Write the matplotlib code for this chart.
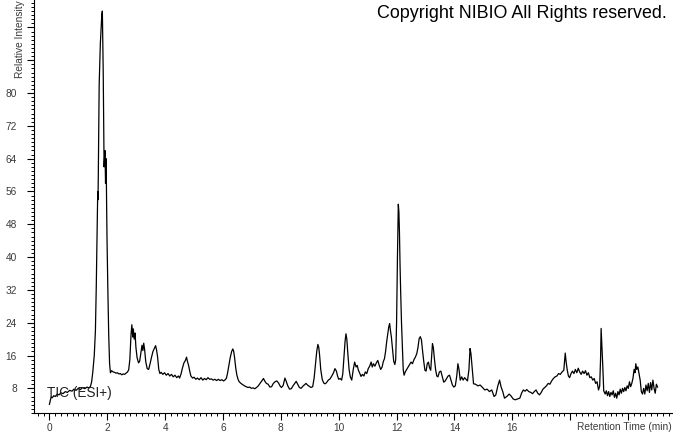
import matplotlib
matplotlib.use("Agg")
import matplotlib.pyplot as plt
from matplotlib.ticker import MultipleLocator, FixedFormatter, FuncFormatter

plt.rcParams['font.family'] = ['Liberation Sans', 'DejaVu Sans']

# retention time (min) and relative intensity
time_min = [
    0.00, 0.03, 0.06, 0.10, 0.15, 0.20, 0.27, 0.33, 0.40, 0.47, 0.55, 0.62,
    0.70, 0.78, 0.85, 0.92, 1.00, 1.07, 1.15, 1.22, 1.30, 1.37, 1.42, 1.46,
    1.50, 1.55, 1.59, 1.62, 1.65, 1.67, 1.68, 1.69, 1.72, 1.76, 1.79, 1.81,
    1.83, 1.86, 1.89, 1.92, 1.94, 1.96, 1.99, 2.02, 2.05, 2.08, 2.11, 2.15,
    2.20, 2.25, 2.30, 2.35, 2.40, 2.45, 2.50, 2.55, 2.60, 2.65, 2.70, 2.74,
    2.78, 2.82, 2.85, 2.88, 2.90, 2.93, 2.96, 2.99, 3.03, 3.08, 3.12, 3.15,
    3.20, 3.23, 3.26, 3.29, 3.33, 3.38, 3.43, 3.48, 3.53, 3.58, 3.63, 3.67,
    3.70, 3.74, 3.78, 3.82, 3.86, 3.92, 3.98, 4.04, 4.10, 4.16, 4.22, 4.28,
    4.34, 4.40, 4.46, 4.50, 4.55, 4.60, 4.65, 4.70, 4.74, 4.77, 4.81, 4.85,
    4.89, 4.95, 5.00, 5.06, 5.12, 5.18, 5.24, 5.30, 5.36, 5.42, 5.48, 5.54,
    5.60, 5.66, 5.72, 5.78, 5.84, 5.90, 5.96, 6.02, 6.08, 6.12, 6.16, 6.20,
    6.25, 6.30, 6.34, 6.37, 6.40, 6.44, 6.48, 6.52, 6.56, 6.62, 6.68, 6.74,
    6.80, 6.86, 6.92, 6.98, 7.04, 7.10, 7.16, 7.22, 7.28, 7.34, 7.40, 7.44,
    7.50, 7.56, 7.62, 7.68, 7.74, 7.80, 7.86, 7.92, 7.98, 8.02, 8.08, 8.14,
    8.18, 8.24, 8.30, 8.36, 8.42, 8.48, 8.53, 8.58, 8.64, 8.70, 8.76, 8.82,
    8.87, 8.92, 8.98, 9.04, 9.10, 9.15, 9.20, 9.24, 9.28, 9.31, 9.34, 9.38,
    9.43, 9.48, 9.53, 9.58, 9.64, 9.70, 9.76, 9.82, 9.87, 9.92, 9.96, 10.00,
    10.05, 10.10, 10.14, 10.18, 10.22, 10.25, 10.28, 10.32, 10.36, 10.40, 10.45, 10.50,
    10.55, 10.60, 10.64, 10.68, 10.72, 10.77, 10.82, 10.87, 10.92, 10.97, 11.02, 11.07,
    11.12, 11.16, 11.20, 11.25, 11.30, 11.35, 11.40, 11.45, 11.50, 11.54, 11.58, 11.62,
    11.66, 11.70, 11.73, 11.76, 11.79, 11.82, 11.86, 11.90, 11.94, 11.97, 12.00, 12.03,
    12.06, 12.08, 12.10, 12.12, 12.14, 12.17, 12.20, 12.23, 12.26, 12.30, 12.35, 12.40,
    12.45, 12.50, 12.55, 12.60, 12.65, 12.70, 12.74, 12.78, 12.82, 12.86, 12.90, 12.94,
    12.98, 13.02, 13.06, 13.10, 13.14, 13.18, 13.21, 13.24, 13.27, 13.31, 13.35, 13.39,
    13.43, 13.48, 13.53, 13.58, 13.63, 13.68, 13.73, 13.78, 13.83, 13.88, 13.93, 13.98,
    14.03, 14.08, 14.12, 14.16, 14.20, 14.25, 14.30, 14.35, 14.40, 14.45, 14.50, 14.54,
    14.57, 14.61, 14.66, 14.73, 14.81, 14.89, 14.97, 15.05, 15.13, 15.21, 15.29, 15.37,
    15.43, 15.50, 15.56, 15.61, 15.67, 15.73, 15.81, 15.89, 15.95, 16.03, 16.10, 16.18,
    16.26, 16.32, 16.38, 16.44, 16.50, 16.57, 16.64, 16.70, 16.76, 16.82, 16.88, 16.94,
    17.00, 17.06, 17.12, 17.18, 17.24, 17.30, 17.36, 17.42, 17.48, 17.54, 17.60, 17.66,
    17.72, 17.78, 17.83, 17.86, 17.90, 17.94, 17.98, 18.03, 18.08, 18.13, 18.18, 18.23,
    18.28, 18.33, 18.38, 18.43, 18.48, 18.53, 18.58, 18.63, 18.68, 18.73, 18.78, 18.83,
    18.88, 18.93, 18.98, 19.02, 19.05, 19.07, 19.10, 19.13, 19.16, 19.21, 19.25, 19.29,
    19.33, 19.37, 19.41, 19.45, 19.49, 19.53, 19.57, 19.61, 19.65, 19.69, 19.73, 19.77,
    19.81, 19.85, 19.89, 19.93, 19.97, 20.01, 20.05, 20.09, 20.13, 20.17, 20.21, 20.24,
    20.27, 20.30, 20.34, 20.38, 20.42, 20.46, 20.50, 20.54, 20.58, 20.62, 20.66, 20.70,
    20.74, 20.78, 20.82, 20.86, 20.90, 20.94, 20.98, 21.02,
]

intensity = [
    4.1, 5.0, 5.9, 5.7, 6.2, 6.0, 6.6, 6.4, 6.9, 6.7, 7.2, 7.0,
    7.5, 7.3, 7.8, 7.5, 8.0, 7.7, 8.2, 7.9, 8.3, 8.1, 8.5, 9.6,
    12.0, 16.0, 22.0, 33.0, 47.0, 56.0, 54.0, 60.0, 82.0, 92.0, 96.0, 99.0,
    100.0, 85.0, 62.0, 66.0, 58.0, 64.0, 45.0, 32.0, 21.0, 14.0, 11.8, 12.3,
    12.0, 11.9, 11.7, 11.8, 11.5, 11.6, 11.3, 11.5, 11.4, 11.7, 12.0, 12.5,
    15.0, 21.0, 23.5, 20.5, 22.5, 20.0, 21.5, 18.0, 15.5, 14.2, 14.6, 16.0,
    18.5, 17.2, 19.0, 17.5, 14.5, 12.8, 12.6, 14.0, 15.6, 17.0, 17.8, 18.4,
    17.5, 15.6, 12.6, 11.6, 11.9, 11.4, 11.8, 11.2, 11.6, 11.0, 11.4, 10.8,
    11.2, 10.6, 11.0, 10.5, 11.5, 13.0, 14.2, 14.8, 15.6, 14.6, 13.6, 12.2,
    11.0, 10.5, 10.7, 10.2, 10.5, 10.1, 10.6, 10.0, 10.4, 10.1, 10.6, 10.2,
    10.3, 10.0, 10.2, 9.9, 10.2, 9.9, 10.1, 9.8, 10.1, 10.5, 11.8, 13.5,
    15.5, 17.0, 17.6, 17.0, 15.5, 13.0, 11.2, 10.2, 9.6, 9.2, 8.9, 8.6,
    8.4, 8.2, 8.3, 8.0, 8.1, 7.9, 8.2, 8.6, 9.2, 9.8, 10.4, 9.8,
    9.2, 9.0, 8.3, 8.4, 9.2, 9.6, 9.8, 9.3, 8.5, 8.2, 8.7, 10.5,
    9.8, 8.6, 7.8, 7.9, 8.6, 9.2, 9.7, 9.0, 8.2, 8.0, 8.5, 8.9,
    9.2, 8.8, 8.5, 8.2, 8.4, 10.5, 14.0, 17.0, 18.7, 18.0, 16.0, 12.5,
    10.2, 9.3, 9.1, 9.4, 10.0, 10.3, 11.0, 11.8, 12.8, 12.2, 11.0, 10.2,
    10.4, 10.0, 11.5, 15.5, 19.5, 21.3, 20.0, 16.0, 12.5, 10.8, 10.0, 12.5,
    14.4, 13.2, 13.6, 12.4, 11.8, 10.9, 11.4, 11.0, 12.0, 11.6, 12.8, 13.4,
    14.4, 13.2, 14.0, 13.4, 14.2, 14.8, 13.6, 12.6, 13.2, 14.5, 15.2, 17.0,
    19.5, 21.5, 23.0, 23.8, 22.0, 20.5, 17.5, 14.6, 13.8, 15.0, 24.0, 40.0,
    52.9, 51.0, 45.8, 38.0, 31.9, 24.0, 18.0, 12.5, 11.2, 12.0, 12.6, 13.2,
    13.8, 14.4, 14.0, 15.0, 15.6, 16.5, 18.0, 20.1, 20.6, 19.8, 17.0, 14.5,
    12.4, 12.2, 14.0, 14.4, 13.0, 12.4, 15.5, 18.9, 18.0, 15.0, 12.5, 11.0,
    10.8, 12.0, 12.2, 10.8, 9.5, 9.8, 10.4, 11.0, 11.2, 10.0, 8.8, 8.3,
    8.6, 11.0, 14.0, 12.5, 10.0, 10.8, 10.0, 10.6, 10.2, 9.8, 12.5, 17.7,
    16.5, 13.2, 9.1, 9.0, 8.6, 8.8, 8.2, 7.6, 7.8, 7.2, 7.6, 6.0,
    6.4, 8.6, 10.0, 8.4, 7.2, 5.6, 6.0, 6.6, 6.2, 5.4, 5.2, 5.4,
    5.6, 6.8, 7.6, 7.3, 7.7, 7.2, 7.0, 6.7, 7.2, 7.6, 6.8, 6.4,
    7.0, 7.8, 8.2, 8.6, 9.2, 9.0, 9.8, 10.4, 10.8, 11.0, 11.6, 11.4,
    12.0, 12.4, 16.6, 14.5, 12.4, 11.0, 10.6, 11.6, 12.2, 11.6, 12.6, 11.8,
    12.9, 12.0, 11.4, 12.2, 11.6, 12.3, 11.2, 11.8, 10.6, 10.8, 10.0, 10.4,
    9.2, 9.6, 7.6, 8.5, 15.0, 22.6, 18.0, 13.0, 7.4, 6.6, 7.4, 6.2,
    7.2, 6.0, 7.0, 6.4, 7.4, 5.8, 6.8, 5.6, 7.2, 6.4, 7.8, 6.8,
    8.0, 7.2, 8.2, 7.4, 8.6, 8.0, 9.6, 8.4, 9.2, 10.4, 12.6, 11.8,
    14.0, 12.6, 13.2, 11.6, 10.0, 7.2, 6.6, 8.0, 6.6, 8.8, 7.4, 9.2,
    7.0, 9.4, 7.6, 10.0, 8.0, 6.8, 9.0, 8.3,
]

x_tick_labels = ['0', '2', '4', '6', '8', '10', '12', '14', '16', '', '']
y_tick_labels = ['8', '16', '24', '32', '40', '48', '56', '64', '72', '80', '', '']

label_grey = '#3a3a3a'

fig = plt.figure(figsize=(6.73, 4.33), dpi=100)
ax = fig.add_axes([33.5 / 673, 20 / 433, 638.5 / 673, 413 / 433])

ax.plot(time_min, intensity, color='black', linewidth=0.9)

ax.set_xlim(-0.55, 21.52)
ax.set_ylim(1.98, 102.7)

ax.xaxis.set_major_locator(MultipleLocator(2))
ax.xaxis.set_minor_locator(MultipleLocator(0.2))
ax.yaxis.set_major_locator(MultipleLocator(8))
ax.yaxis.set_minor_locator(MultipleLocator(1))

ax.set_xticks(range(0, 22, 2))
ax.set_xticklabels(x_tick_labels)
ax.set_yticks(range(8, 100, 8))
ax.set_yticklabels(y_tick_labels)

ax.tick_params(which='major', length=5, width=0.8, colors='black',
               labelcolor=label_grey, labelsize=7.3)
ax.tick_params(which='minor', length=2.5, width=0.7, colors='black')
ax.tick_params(axis='x', which='major', pad=2)
ax.tick_params(axis='y', which='major', pad=7)

for side in ['top', 'right']:
    ax.spines[side].set_visible(False)
for side in ['left', 'bottom']:
    ax.spines[side].set_linewidth(0.8)

fig.text(672 / 673, 1 - 427 / 433, 'Retention Time (min)', ha='right', va='center',
         fontsize=7.3, color=label_grey)
fig.text(20 / 673, 1 - 78 / 433, 'Relative Intensity', rotation=90, ha='center',
         va='bottom', fontsize=7.3, color=label_grey)
fig.text(47 / 673, 1 - 393 / 433, 'TIC (ESI+)', ha='left', va='center',
         fontsize=9.8, color='#222222')
fig.text(667 / 673, 1 - 14 / 433, 'Copyright NIBIO All Rights reserved.', ha='right',
         va='center', fontsize=12.9, color='black')

fig.savefig('out.png', dpi=100)
